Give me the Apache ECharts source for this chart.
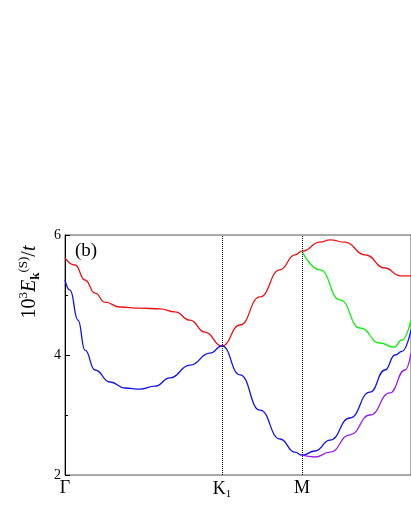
<!DOCTYPE html><html><head><meta charset="utf-8"><script src="https://cdn.jsdelivr.net/npm/echarts@6/dist/echarts.min.js"></script>
<style>html,body{margin:0;padding:0;background:#fff}#c{width:411px;height:532px}</style></head><body><div id="c"></div><script>
const xTicks=[0,157,237];
const xTickLabels=['Γ','K1','M'];
const red=[[0,5.62],[10,5.5],[20,5.25],[30,5.03],[40,4.88],[55,4.8],[75,4.78],[95,4.77],[110,4.72],[125,4.58],[140,4.38],[157,4.15],[175,4.5],[195,4.97],[215,5.42],[230,5.67],[237,5.73],[255,5.88],[265,5.92],[280,5.88],[300,5.67],[320,5.45],[335,5.32],[346,5.32]];
const blue=[[0,5.25],[5,5.08],[13,4.58],[20,4.08],[30,3.75],[45,3.55],[60,3.45],[75,3.43],[90,3.48],[105,3.62],[125,3.83],[145,4.03],[157,4.15],[175,3.67],[195,3.08],[215,2.6],[230,2.38],[237,2.33],[250,2.4],[265,2.58],[285,2.95],[305,3.38],[320,3.75],[330,4.0],[337,4.06],[346,4.42]];
const green=[[237,5.73],[255,5.42],[275,4.92],[295,4.45],[315,4.2],[329,4.13],[337,4.25],[346,4.58]];
const purple=[[237,2.33],[250,2.3],[265,2.38],[285,2.67],[305,3.0],[325,3.37],[340,3.75],[346,4.03]];
const F='Liberation Serif';
const ch=echarts.init(document.getElementById('c'));
const line=(d,c,extra)=>Object.assign({type:'line',data:d,smooth:0.5,smoothMonotone:'x',showSymbol:false,lineStyle:{color:c,width:1.3},z:3},extra||{});
ch.setOption({animation:false,
grid:{left:65,right:0,top:235,bottom:57,show:true,borderColor:'#555',borderWidth:1},
xAxis:{type:'value',min:0,max:346,axisLine:{show:false},axisTick:{show:false},splitLine:{show:false},
 axisLabel:{customValues:xTicks,fontFamily:F,fontSize:18,color:'#000',margin:4,
  formatter:v=>{const i=xTicks.indexOf(v);return i===1?'K{s|1}':xTickLabels[i];},rich:{s:{fontFamily:F,fontSize:11,padding:[10,0,0,0]}}}},
yAxis:{type:'value',min:2,max:6,interval:2,axisLine:{show:true,lineStyle:{color:'#000'}},
 axisTick:{inside:true,length:5,lineStyle:{color:'#000'}},minorTick:{show:true,splitNumber:2,length:3,lineStyle:{color:'#000'}},splitLine:{show:false},
 axisLabel:{fontFamily:F,fontSize:14,color:'#000',margin:4,verticalAlign:'middle'}},
graphic:[{type:'text',left:75,top:242,style:{text:'(b)',font:'19px "Liberation Serif"',fill:'#000'}},
 {type:'text',x:30,y:282,rotation:Math.PI/2,style:{text:'10{u|3}{i|E}{b|k}{u|(S)}/{i|t}',align:'center',verticalAlign:'middle',fill:'#000',font:'20px "Liberation Serif"',
  rich:{u:{fontFamily:F,fontSize:13,padding:[0,0,12,0]},i:{fontFamily:F,fontSize:20,fontStyle:'italic'},b:{fontFamily:F,fontSize:13,fontWeight:'bold',padding:[12,0,0,0]}}}}],
series:[
 line(red,'#ee1111',{markLine:{silent:true,symbol:'none',label:{show:false},lineStyle:{color:'#000',type:'dotted',width:1},data:[{xAxis:157},{xAxis:237}]}}),
 line(blue,'#1111ee'),line(green,'#11ee11'),line(purple,'#9922ee')]});
</script></body></html>
